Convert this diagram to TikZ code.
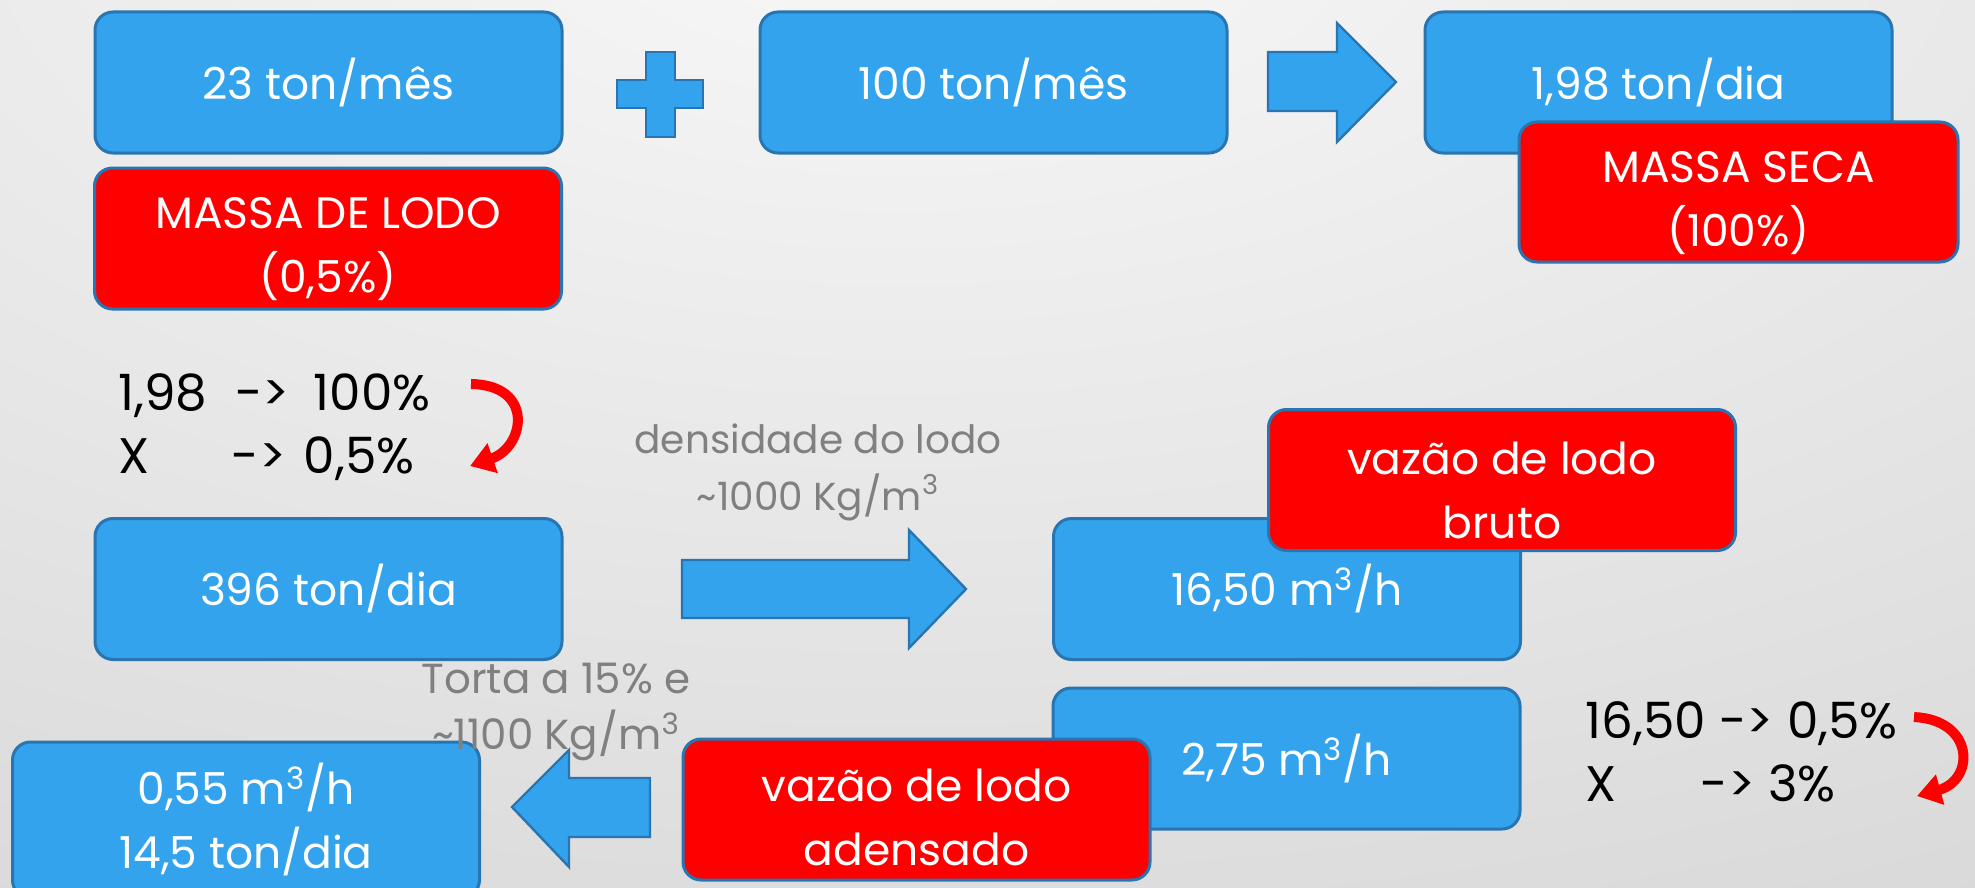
\documentclass[tikz,border=0pt]{standalone}
\usepackage{fontspec}
\setmainfont{Poppins}
\usetikzlibrary{arrows.meta}
\definecolor{boxblue}{RGB}{50,163,236}
\definecolor{edgeblue}{RGB}{41,117,178}
\definecolor{txtgray}{RGB}{128,128,128}
\definecolor{bgA}{RGB}{248,248,248}
\definecolor{bgB}{RGB}{188,188,188}
\pgfdeclareradialshading{bgshade}{\pgfpoint{0bp}{0bp}}{color(0bp)=(bgA); color(40bp)=(bgB); color(50bp)=(bgB)}
\newcommand{\lowerline}{\rule{0pt}{26.5pt}}
\tikzset{
  card/.style={draw=edgeblue, line width=1.5pt, rounded corners=9pt, inner sep=0pt,
    text=white, align=center, font=\fontsize{22}{32}\selectfont,
    minimum width=233.5pt, minimum height=70.5pt},
  bluecard/.style={card, fill=boxblue},
  redcard/.style={card, fill=red},
  blockarrow/.style={fill=boxblue, draw=edgeblue, line width=1.2pt, line join=miter},
  note/.style={font=\fontsize{25}{31.5}\selectfont, inner sep=0pt, anchor=base west},
  graynote/.style={font=\fontsize{19.5}{28.5}\selectfont, text=txtgray, inner sep=0pt, anchor=base},
  bendarrow/.style={draw=red, line width=5pt, -{Triangle[length=12pt,width=15pt]}},
}
\begin{document}
\begin{tikzpicture}[x=0.5pt,y=-0.5pt]
\useasboundingbox (0,0) rectangle (1975,888);
\begin{scope}
\clip (0,0) rectangle (1975,888);
\shade[shading=bgshade] (900,-100) ellipse [x radius=2750, y radius=1375];

% top row
\node[bluecard] (a) at (328.5,82.5) {23 ton/mês};
\node[redcard] (ma) at (328,238.5) {\lowerline MASSA DE LODO\\(0,5\%)};
\draw[blockarrow] (646,52) -- (675,52) -- (675,80) -- (703,80) -- (703,108) -- (675,108)
  -- (675,137) -- (646,137) -- (646,108) -- (617,108) -- (617,80) -- (646,80) -- cycle;
\node[bluecard] (b) at (993.5,82.5) {100 ton/mês};
\draw[blockarrow] (1268,52) -- (1337,52) -- (1337,23) -- (1396,82) -- (1337,142) -- (1337,111) -- (1268,111) -- cycle;
\node[bluecard] (c) at (1658.5,82.5) {1,98 ton/dia};
\node[redcard, minimum width=219.5pt, minimum height=70pt] (ms) at (1738.5,192) {\lowerline MASSA SECA\\(100\%)};

% rule of three (left)
\node[note] (calc1) at (118,410) {\begin{tabular}[t]{@{}l@{}}1,98\hspace{14pt}->\hspace{12pt}100\%\\X\hspace{41pt}->\hspace{9pt}0,5\%\end{tabular}};
\coordinate (l1) at (471,384);
\coordinate (l2) at (470,466);
\draw[bendarrow] (l1) .. controls (535,385) and (525,447) .. (l2);

\node[graynote] (dens) at (818,453) {\begin{tabular}[t]{@{}c@{}}densidade do lodo\\\textasciitilde1000 Kg/m\textsuperscript{3}\end{tabular}};

% middle row
\node[bluecard] (d) at (328.5,589) {396 ton/dia};
\draw[blockarrow] (682,560) -- (909,560) -- (909,530) -- (966,589) -- (909,648) -- (909,618) -- (682,618) -- cycle;
\node[bluecard] (e) at (1287,589) {16,50 m\textsuperscript{3}/h};
\node[redcard] (vb) at (1502,480) {\lowerline vazão de lodo\\bruto};

% bottom row
\node[bluecard] (f) at (1286.5,758.5) {2,75 m\textsuperscript{3}/h};
\node[redcard] (va) at (916.5,809.5) {\rule{0pt}{24.5pt}vazão de lodo\\adensado};
\node[bluecard, minimum height=78pt] (g) at (246,820) {0,55 m\textsuperscript{3}/h\\14,5 ton/dia};
\draw[blockarrow] (650,778) -- (569,778) -- (569,750) -- (512,807) -- (569,867) -- (569,837) -- (650,837) -- cycle;
\node[graynote, font=\fontsize{21}{27.5}\selectfont] (torta) at (556,693) {\begin{tabular}[t]{@{}c@{}}Torta a 15\% e\\\textasciitilde1100 Kg/m\textsuperscript{3}\end{tabular}};

% rule of three (right)
\node[note] (calc2) at (1585,738) {\begin{tabular}[t]{@{}l@{}}16,50 -> 0,5\%\\X\hspace{42pt}-> 3\%\end{tabular}};
\coordinate (r1) at (1914,717);
\coordinate (r2) at (1917,796);
\draw[bendarrow] (r1) .. controls (1975,720) and (1975,780) .. (r2);
\end{scope}
\end{tikzpicture}
\end{document}
